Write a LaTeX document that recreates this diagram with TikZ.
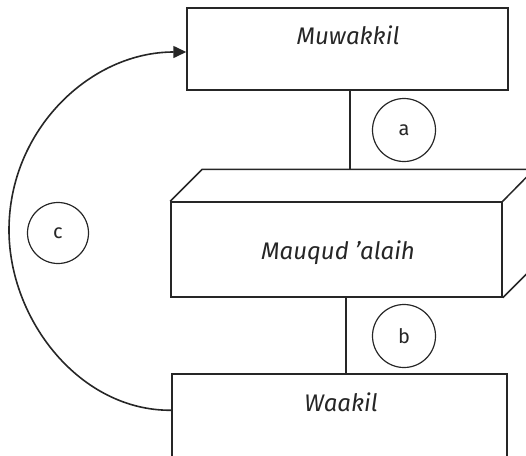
\documentclass[tikz,border=0pt]{standalone}
\usepackage{fontspec}
\setmainfont{Fira Sans}
\usetikzlibrary{arrows.meta}
\tikzset{
  ln/.style={line width=1.5pt, draw=black!85},
  boxnode/.style={ln, rectangle, inner sep=0pt},
  lbl/.style={font=\fontsize{24}{26}\selectfont\itshape, text=black!85, inner sep=0pt},
  tag/.style={ln, line width=1.2pt, circle, minimum size=63pt, inner sep=0pt, font=\fontsize{20}{22}\selectfont, text=black!85},
}
\begin{document}
\begin{tikzpicture}[x=1pt,y=-1pt]
\useasboundingbox (0,0) rectangle (526,455);
\clip (0,0) rectangle (526,455);
% boxes
\node[boxnode, minimum width=321pt, minimum height=82pt] (muw) at (347.5,49) {};
\node[lbl] (muwt) at (348,35) {Muwakkil};
\node[boxnode, minimum width=331pt, minimum height=95pt] (cube) at (336.5,249.5) {};
\node[lbl] (cubet) at (338,253) {Mauqud ’alaih};
\draw[ln, line join=round] (cube.north west) -- ++(32,-32) -- ++(332,0) -- (cube.north east);
\draw[ln, line join=round] (cube.south east) -- ++(33,-33) -- ++(0,-95);
\node[boxnode, minimum width=335pt, minimum height=110pt] (waa) at (339.5,429) {};
\node[lbl] (waat) at (341,402) {Waakil};
% connectors
\coordinate (ctop) at (350,170);
\draw[ln] (muw.south -| ctop) -- (ctop);
\draw[ln] (cube.south -| 346,0) -- (waa.north -| 346,0);
% circles
\node[tag] (a) at (404,130) {a};
\node[tag] (b) at (404,336) {b};
\node[tag, minimum size=61pt] (c) at (58,233) {c};
% arc
\coordinate (s) at ([yshift=-37pt]waa.north west);
\coordinate (e) at ([yshift=-3pt]muw.west);
\draw[ln, line width=1.6pt, -{Triangle[length=13pt,width=12pt]}]
  (s) .. controls (80,411) and (9,320) .. (9,230)
      .. controls (9,130) and (90,52) .. (e);
\end{tikzpicture}
\end{document}
